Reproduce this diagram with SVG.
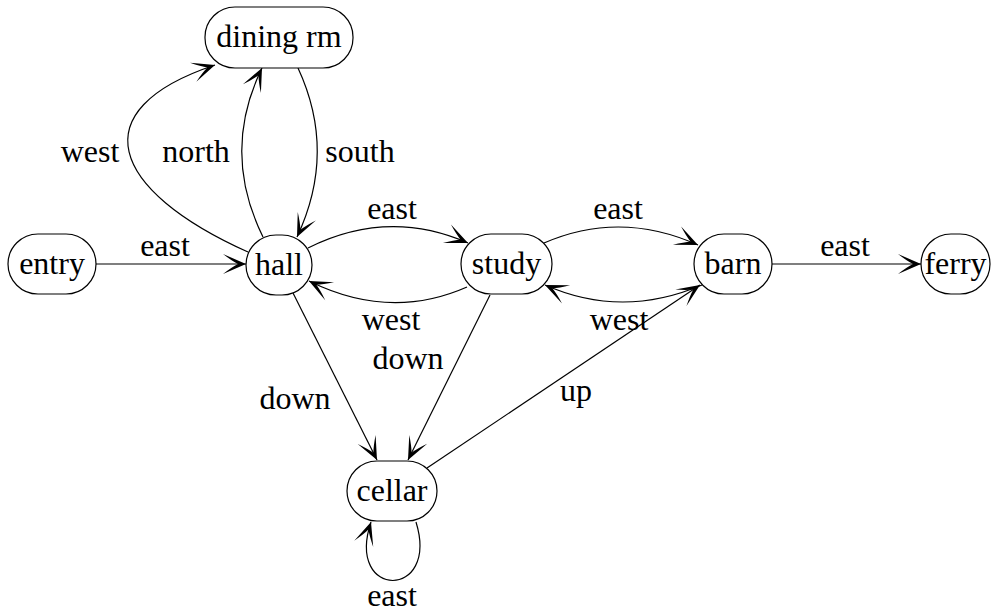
<svg xmlns="http://www.w3.org/2000/svg" width="991" height="613" viewBox="0 0 991 613">
<defs>
<marker id="arr" markerUnits="userSpaceOnUse" orient="auto" viewBox="-25 -11 26 22" refX="0" refY="0" markerWidth="26" markerHeight="22">
<path d="M0,0 L-23,-10 Q-14,-3 -8,0 Q-14,3 -23,10 Z" fill="#000"/>
</marker>
</defs>
<rect width="991" height="613" fill="#fff"/>
<g id="edges" fill="none" stroke="#000" stroke-width="1.2" marker-end="url(#arr)">
<path id="e-entry-hall" d="M96,264 L246,264"/>
<path id="e-hall-study" d="M308,248 Q388,208 468,243"/>
<path id="e-study-hall" d="M467,287 Q390,321 309,281"/>
<path id="e-study-barn" d="M544,243 Q620,210 698,245"/>
<path id="e-barn-study" d="M702,285 Q622,319 545,285"/>
<path id="e-barn-ferry" d="M772,264 L921,264"/>
<path id="e-hall-dining-n" d="M263,237 Q221,152 262,68"/>
<path id="e-dining-hall" d="M298,68 Q337,152 297,237"/>
<path id="e-hall-dining-w" d="M248,252 C110,190 80,110 215,65"/>
<path id="e-hall-cellar" d="M293,293 L377,460"/>
<path id="e-study-cellar" d="M490,295 L408,460"/>
<path id="e-cellar-barn" d="M427,468 L700,285"/>
<path id="e-cellar-cellar" d="M416,522 C440,600 345,600 371,522"/>
</g>
<g id="labels" font-family="Liberation Serif" font-size="32" text-anchor="middle" fill="#000">
<text x="165" y="256">east</text>
<text x="392" y="219">east</text>
<text x="391" y="330">west</text>
<text x="618" y="219">east</text>
<text x="619" y="330">west</text>
<text x="845" y="256">east</text>
<text x="90" y="162">west</text>
<text x="196" y="162">north</text>
<text x="360" y="162">south</text>
<text x="295" y="409">down</text>
<text x="408" y="369">down</text>
<text x="576" y="401">up</text>
<text x="392" y="606">east</text>
</g>
<g id="nodes" font-family="Liberation Serif" font-size="32" text-anchor="middle">
<g id="entry"><rect x="8" y="234" width="88" height="60" rx="30" fill="#fff" stroke="#000" stroke-width="1.2"/><text x="52" y="274">entry</text></g>
<g id="hall"><rect x="246" y="235" width="66" height="60" rx="30" fill="#fff" stroke="#000" stroke-width="1.2"/><text x="279" y="275">hall</text></g>
<g id="dining"><rect x="205" y="7" width="148" height="61" rx="30" fill="#fff" stroke="#000" stroke-width="1.2"/><text x="279" y="47">dining rm</text></g>
<g id="study"><rect x="461" y="234" width="91" height="60" rx="30" fill="#fff" stroke="#000" stroke-width="1.2"/><text x="506.5" y="274">study</text></g>
<g id="barn"><rect x="694" y="234" width="78" height="60" rx="30" fill="#fff" stroke="#000" stroke-width="1.2"/><text x="733" y="274">barn</text></g>
<g id="ferry"><rect x="921" y="234" width="69" height="60" rx="30" fill="#fff" stroke="#000" stroke-width="1.2"/><text x="955.5" y="274">ferry</text></g>
<g id="cellar"><rect x="347" y="461" width="90" height="60" rx="30" fill="#fff" stroke="#000" stroke-width="1.2"/><text x="392" y="501">cellar</text></g>
</g>
</svg>
